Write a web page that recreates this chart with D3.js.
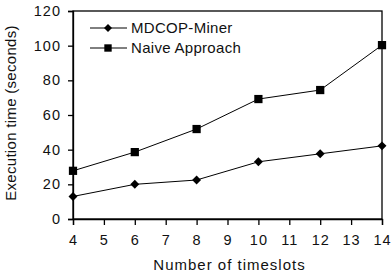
<!DOCTYPE html>
<head>
  <meta charset="utf-8">
  <script src="https://cdn.jsdelivr.net/npm/d3@7"></script>
</head>
<style>
  body { margin: 0; background: #fff; }
  text { font-family: "Liberation Sans", Arial, sans-serif; fill: #111; }
</style>
<body>
<script>
var timeslots = [4, 6, 8, 10, 12, 14];
var mdcopMiner = [13, 20, 22.5, 33, 37.6, 42.2];
var naiveApproach = [27.8, 38.6, 51.9, 69.2, 74.4, 100.3];
var yTicks = [0, 20, 40, 60, 80, 100, 120];
var xTicks = [4, 5, 6, 7, 8, 9, 10, 11, 12, 13, 14];

var width = 391, height = 276,
    margin = {top: 11, right: 9, bottom: 57, left: 73};

var svg = d3.select("body").append("svg")
    .attr("width", width)
    .attr("height", height);

var x = d3.scaleLinear().domain([4, 14]).range([margin.left, width - margin.right]);
var y = d3.scaleLinear().domain([0, 120]).range([height - margin.bottom, margin.top]);

// square-ish diamond (d3's is too narrow)
var diamond = {
  draw: function(ctx, size) {
    var r = Math.sqrt(size / 2);
    ctx.moveTo(0, -r);
    ctx.lineTo(r, 0);
    ctx.lineTo(0, r);
    ctx.lineTo(-r, 0);
    ctx.closePath();
  }
};

// box
svg.append("rect")
    .attr("x", x(4)).attr("y", y(120))
    .attr("width", x(14) - x(4)).attr("height", y(0) - y(120))
    .attr("fill", "none").attr("stroke", "#000").attr("stroke-width", 1.3);

var yAxis = svg.append("g")
    .attr("transform", "translate(" + x(4) + ",0)")
    .call(d3.axisLeft(y).tickValues(yTicks).tickSize(5).tickPadding(7));

var xAxis = svg.append("g")
    .attr("transform", "translate(0," + y(0) + ")")
    .call(d3.axisBottom(x).tickValues(xTicks).tickSize(6).tickPadding(10));

[yAxis, xAxis].forEach(function(a) {
  a.select(".domain").attr("stroke", "#000").attr("stroke-width", 1.3);
  a.selectAll(".tick line").attr("stroke", "#000").attr("stroke-width", 1.3);
  a.selectAll("text")
      .attr("font-size", 14.5)
      .attr("letter-spacing", 1)
      .attr("font-family", "Liberation Sans, Arial, sans-serif")
      .attr("fill", "#111");
});

var line = d3.line()
    .x(function(d, i) { return x(timeslots[i]); })
    .y(function(d) { return y(d); });

var series = [
  {name: "MDCOP-Miner", values: mdcopMiner, symbol: diamond, size: 40},
  {name: "Naive Approach", values: naiveApproach, symbol: d3.symbolSquare, size: 68}
];

series.forEach(function(s) {
  svg.append("path")
      .datum(s.values)
      .attr("d", line)
      .attr("fill", "none")
      .attr("stroke", "#000")
      .attr("stroke-width", 1);
  svg.selectAll(null)
      .data(s.values)
      .enter().append("path")
      .attr("d", d3.symbol().type(s.symbol).size(s.size))
      .attr("transform", function(d, i) { return "translate(" + x(timeslots[i]) + "," + y(d) + ")"; })
      .attr("fill", "#000");
});

// legend
var legend = svg.selectAll(".legend")
    .data(series)
  .enter().append("g")
    .attr("class", "legend")
    .attr("transform", function(d, i) { return "translate(90," + (28 + i * 20) + ")"; });

legend.append("line")
    .attr("x1", 0).attr("x2", 37)
    .attr("stroke", "#000").attr("stroke-width", 1);
legend.append("path")
    .attr("d", function(d) { return d3.symbol().type(d.symbol).size(d.size * 0.8)(); })
    .attr("transform", "translate(18,0)")
    .attr("fill", "#000");
legend.append("text")
    .attr("x", 41).attr("dy", "0.35em")
    .attr("font-size", 15)
    .attr("letter-spacing", 0.3)
    .text(function(d) { return d.name; });

// axis titles
svg.append("text")
    .attr("x", (x(4) + x(14)) / 2 + 2).attr("y", 270)
    .attr("text-anchor", "middle")
    .attr("font-size", 15)
    .attr("letter-spacing", 1)
    .text("Number of timeslots");

svg.append("text")
    .attr("transform", "translate(16," + ((y(0) + y(120)) / 2 - 2) + ") rotate(-90)")
    .attr("text-anchor", "middle")
    .attr("font-size", 15)
    .attr("letter-spacing", 0.3)
    .text("Execution time (seconds)");
</script>
</body>
